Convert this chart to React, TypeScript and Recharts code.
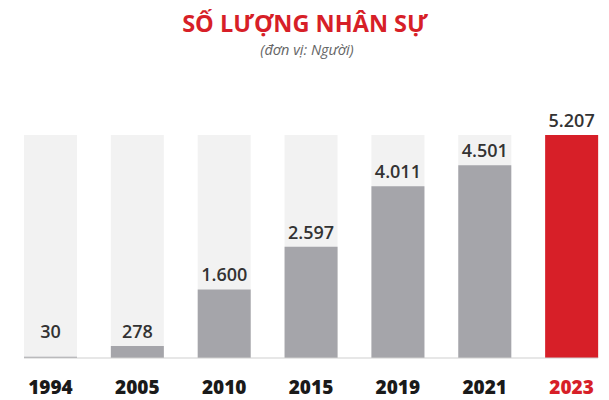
import { Bar, BarChart, Cell, LabelList, XAxis, YAxis } from 'recharts';

const years = ['1994', '2005', '2010', '2015', '2019', '2021', '2023'];
const staff = [30, 278, 1600, 2597, 4011, 4501, 5207];

const rows = years.map((year, i) => ({ year, staff: staff[i] }));

const GREY = '#a5a5aa';
const RED = '#d71f28';
const TRACK = '#f2f2f2';
const FONT = '"Open Sans", sans-serif';

const fmt = (v: number) => v.toString().replace(/\B(?=(\d{3})+(?!\d))/g, '.');

function YearTick({ x, y, payload }: any) {
  const last = payload.value === years[years.length - 1];
  return (
    <text
      x={x}
      y={y + 28}
      textAnchor="middle"
      fontFamily={FONT}
      fontWeight={800}
      fontSize={19}
      fill={last ? RED : '#1a1a1a'}
    >
      {payload.value}
    </text>
  );
}

function ValueLabel({ x, y, width, height, value }: any) {
  // tiny bars keep their number a bit above the baseline
  const ty = Math.min(y - 8, y + height - 20);
  return (
    <text
      x={x + width / 2}
      y={ty}
      textAnchor="middle"
      fontFamily={FONT}
      fontWeight={600}
      fontSize={18}
      fill="#333"
    >
      {fmt(value)}
    </text>
  );
}

export default function App() {
  return (
    <div style={{ position: 'absolute', left: 0, top: 0, width: 609, height: 400, background: '#fff' }}>
      <svg width={609} height={70} style={{ position: 'absolute', left: 0, top: 0 }}>
        <text x={305} y={32} textAnchor="middle" fontFamily={FONT} fontWeight={700} fontSize={23.5} fill={RED}>
          SỐ LƯỢNG NHÂN SỰ
        </text>
        <text x={307} y={55} textAnchor="middle" fontFamily={FONT} fontStyle="italic" fontSize={14.5} fill="#666">
          (đơn vị: Người)
        </text>
      </svg>
      <BarChart
        width={609}
        height={400}
        data={rows}
        margin={{ top: 135, right: 11, bottom: 12, left: 24 }}
        style={{ position: 'absolute', left: 0, top: 0 }}
      >
        <YAxis hide domain={[0, 5207]} />
        <XAxis
          dataKey="year"
          height={30}
          axisLine={{ stroke: '#cfcfcf' }}
          tickLine={false}
          tick={<YearTick />}
          padding={{ left: -17, right: -17 }}
          interval={0}
        />
        <Bar dataKey="staff" barSize={53} background={{ fill: TRACK }} isAnimationActive={false}>
          {rows.map((r, i) => (
            <Cell key={r.year} fill={i === rows.length - 1 ? RED : GREY} />
          ))}
          <LabelList dataKey="staff" content={<ValueLabel />} />
        </Bar>
      </BarChart>
    </div>
  );
}
